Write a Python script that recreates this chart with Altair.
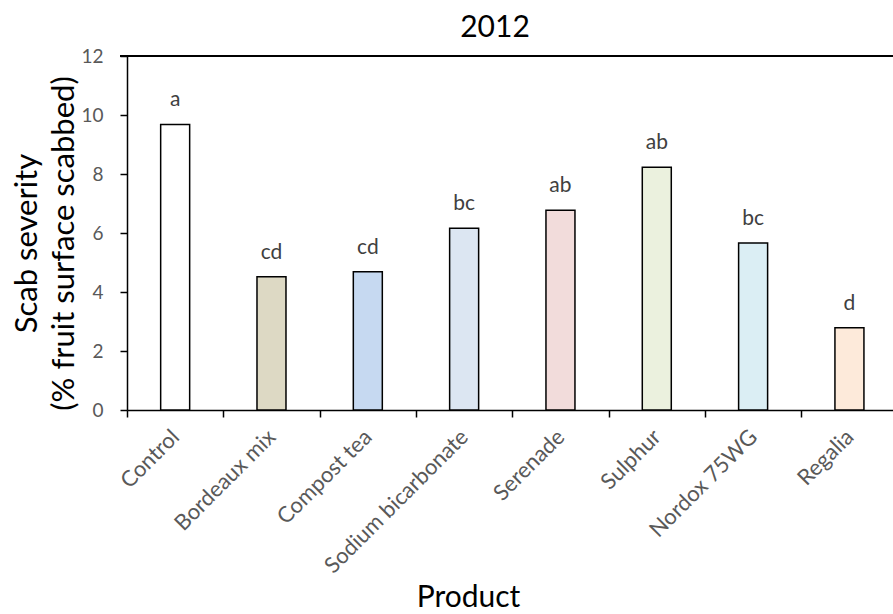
import altair as alt
import pandas as pd

# Scab severity per product, 2012 season
products = ["Control", "Bordeaux mix", "Compost tea", "Sodium bicarbonate",
            "Serenade", "Sulphur", "Nordox 75WG", "Regalia"]
severity = [9.68, 4.52, 4.69, 6.16, 6.77, 8.23, 5.66, 2.79]
letters = ["a", "cd", "cd", "bc", "ab", "ab", "bc", "d"]
fills = ["#FFFFFF", "#DDD9C4", "#C6D9F1", "#DCE6F2",
         "#F2DCDB", "#EBF1DE", "#DBEEF4", "#FDEADA"]
y_ticks = [0, 2, 4, 6, 8, 10, 12]

df = pd.DataFrame({"Product": products, "Severity": severity,
                   "Letter": letters, "Fill": fills})

FONT = "Lato"
x_scale = alt.Scale(domain=products, range=[0, 770.6], paddingInner=0, paddingOuter=0)
y_scale = alt.Scale(domain=[0, 12], nice=False, zero=True)

x_axis = alt.Axis(
    title="Product", titleFont=FONT, titleFontSize=30, titleFontWeight="normal",
    titleColor="black", titleX=341, titleY=196, titleBaseline="alphabetic",
    titleAlign="center",
    labelFont=FONT, labelFontSize=22, labelColor="#595959", labelAngle=-45,
    labelAlign="right", labelBaseline="middle", labelPadding=16, labelLimit=0,
    ticks=True, tickBand="extent", tickSize=7, tickColor="black", tickWidth=1.5,
    domainColor="black", domainWidth=1.5, grid=False, labelOverlap=False,
)
y_axis = alt.Axis(
    title=["Scab severity", "(% fruit surface scabbed)"], titleFont=FONT,
    titleFontSize=31, titleFontWeight="normal", titleColor="black",
    titleX=-91, titleY=187, titleAngle=270, titleAlign="center",
    titleBaseline="alphabetic", titleLineHeight=37,
    values=y_ticks, labelFont=FONT, labelFontSize=19, labelColor="#595959",
    labelPadding=17, tickSize=7, tickColor="black", tickWidth=1.5,
    domainColor="black", domainWidth=1.5, grid=False,
)

base = alt.Chart(df)

bars = base.mark_bar(size=29, stroke="black", strokeWidth=1.5).encode(
    x=alt.X("Product:N", scale=x_scale, sort=products, axis=x_axis),
    y=alt.Y("Severity:Q", scale=y_scale, axis=y_axis),
    fill=alt.Fill("Fill:N", scale=None),
)

labels = base.mark_text(dy=-18, baseline="alphabetic", font=FONT,
                        fontSize=21, color="#404040").encode(
    x=alt.X("Product:N", sort=products),
    y=alt.Y("Severity:Q"),
    text="Letter:N",
)

top_line = alt.Chart(df).mark_rule(color="black", strokeWidth=1.5).encode(
    y=alt.datum(12), x=alt.value(-7), x2=alt.value(766)
)

chart = alt.layer(bars, labels, top_line).properties(
    width=766, height=354,
    autosize=alt.AutoSizeParams(type="none"),
    padding={"left": 127, "top": 56, "right": 0, "bottom": 204},
    background="white",
    title=alt.TitleParams("2012", font=FONT, fontSize=30, fontWeight="normal",
                          color="black", anchor="middle", dx=-15, dy=29, offset=9,
                          baseline="alphabetic"),
).configure_view(stroke=None)

chart.save("out.html", embed_options={"renderer": "svg", "actions": False})
